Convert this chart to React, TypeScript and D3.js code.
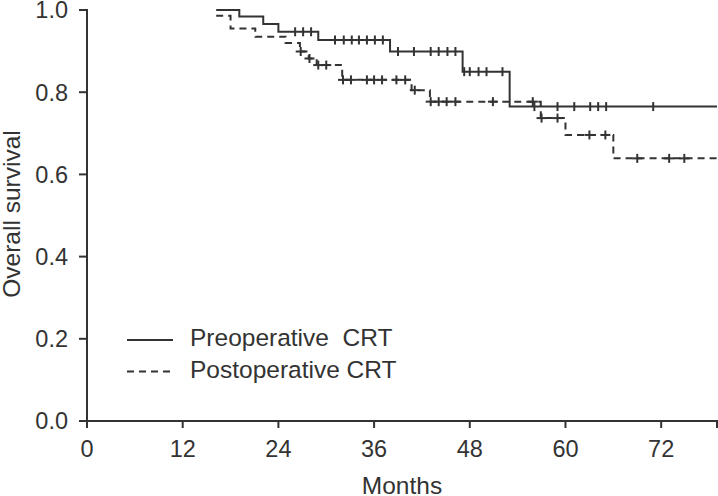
import React from "react";
import * as d3 from "d3";

// Kaplan–Meier step data (months, overall survival)
const preTimes = [16.2, 19.1, 22.1, 24.0, 29.0, 38.0, 47.1, 53.0, 79];
const preSurv = [1.0, 0.984, 0.966, 0.947, 0.927, 0.899, 0.85, 0.765, 0.765];
const preCensor = [26.1, 27.1, 28.1, 31.1, 32.2, 33.2, 34.1, 35.1, 36.1, 37.1, 39.0, 41.0, 43.1, 44.1, 45.2, 46.2, 47.3, 48.0, 49.1, 50.1, 52.1, 56.1, 59.0, 61.1, 63.1, 64.1, 65.1, 71.0];

const postTimes = [16.2, 18.0, 21.1, 24.9, 26.7, 27.8, 28.8, 32.0, 40.7, 43.0, 56.9, 60.0, 66.0, 79];
const postSurv = [0.986, 0.955, 0.935, 0.92, 0.899, 0.882, 0.866, 0.83, 0.805, 0.777, 0.737, 0.696, 0.639, 0.639];
const postCensor = [26.8, 27.9, 29.0, 30.0, 32.1, 33.1, 35.1, 36.0, 37.0, 38.8, 39.9, 41.1, 43.1, 44.1, 45.1, 46.2, 50.9, 55.9, 57.0, 59.0, 63.0, 65.0, 69.0, 73.0, 74.9];

const xTicks = [0, 12, 24, 36, 48, 60, 72];
const yTicks = [0, 0.2, 0.4, 0.6, 0.8, 1.0];
const legendLabels = ["Preoperative  CRT", "Postoperative CRT"];

const W = 718;
const H = 496;
const INK = "#333";
const FONT = "'Liberation Sans', Arial, Helvetica, sans-serif";

export default function App() {
  const x = d3.scaleLinear().domain([0, 79]).range([87, 717]);
  const y = d3.scaleLinear().domain([0, 1]).range([421, 10]);

  const line = d3
    .line<[number, number]>()
    .x((d) => x(d[0]))
    .y((d) => y(d[1]))
    .curve(d3.curveStepAfter);

  const survAt = (times: number[], surv: number[], t: number) => {
    let v = surv[0];
    for (let i = 0; i < times.length; i++) if (times[i] <= t) v = surv[i];
    return v;
  };

  const series = [
    { times: preTimes, surv: preSurv, censor: preCensor, dash: undefined as string | undefined },
    { times: postTimes, surv: postSurv, censor: postCensor, dash: "7,5" },
  ];

  const [x0, x1] = x.range();
  const [y0, y1] = y.range();

  return (
    <svg
      width={W}
      height={H}
      style={{ position: "absolute", left: 0, top: 0, background: "#fff" }}
      fontFamily={FONT}
    >
      {/* axes */}
      <path d={`M${x0},${y0 + 7}V${y0}H${x1}V${y0 + 7}`} fill="none" stroke={INK} strokeWidth={2} />
      <path d={`M${x0 - 8},${y1}H${x0}V${y0}H${x0 - 8}`} fill="none" stroke={INK} strokeWidth={2} />
      {xTicks.map((t) => (
        <g key={"xt" + t}>
          <line x1={x(t)} x2={x(t)} y1={y0} y2={y0 + 7} stroke={INK} strokeWidth={2} />
          <text x={x(t)} y={y0 + 36} textAnchor="middle" fontSize={23.5} fill={INK}>
            {t}
          </text>
        </g>
      ))}
      {yTicks.map((t) => (
        <g key={"yt" + t}>
          <line x1={x0 - 8} x2={x0} y1={y(t)} y2={y(t)} stroke={INK} strokeWidth={2} />
          <text x={68} y={y(t)} dy="0.36em" textAnchor="end" fontSize={23.5} fill={INK}>
            {t.toFixed(1)}
          </text>
        </g>
      ))}
      <text x={(x0 + x1) / 2} y={494} textAnchor="middle" fontSize={24.5} fill={INK}>
        Months
      </text>
      <text
        transform={`translate(20,214) rotate(-90)`}
        textAnchor="middle"
        fontSize={24.5}
        fill={INK}
      >
        Overall survival
      </text>

      {/* curves */}
      {series.map((s, i) => {
        const pts: [number, number][] = s.times.map((t, k) => [t, s.surv[k]]);
        return (
          <g key={"s" + i}>
            <path d={line(pts) || ""} fill="none" stroke={INK} strokeWidth={2} strokeDasharray={s.dash} />
            {s.censor.map((c, k) => {
              const cx = x(c);
              const cy = y(survAt(s.times, s.surv, c));
              return (
                <g key={k}>
                  <line x1={cx} x2={cx} y1={cy - 4.5} y2={cy + 4.5} stroke={INK} strokeWidth={2} />
                  {s.dash && <line x1={cx - 5} x2={cx + 5} y1={cy} y2={cy} stroke={INK} strokeWidth={2} />}
                </g>
              );
            })}
          </g>
        );
      })}

      {/* legend */}
      {legendLabels.map((lab, i) => {
        const ly = 340 + i * 31.5;
        return (
          <g key={"lg" + i}>
            <line
              x1={127}
              x2={173}
              y1={ly}
              y2={ly}
              stroke={INK}
              strokeWidth={2}
              strokeDasharray={i === 1 ? "7,5" : undefined}
            />
            <text x={190} y={ly + 6} fontSize={24.5} fill={INK} style={{ whiteSpace: "pre" }}>
              {lab}
            </text>
          </g>
        );
      })}
    </svg>
  );
}
